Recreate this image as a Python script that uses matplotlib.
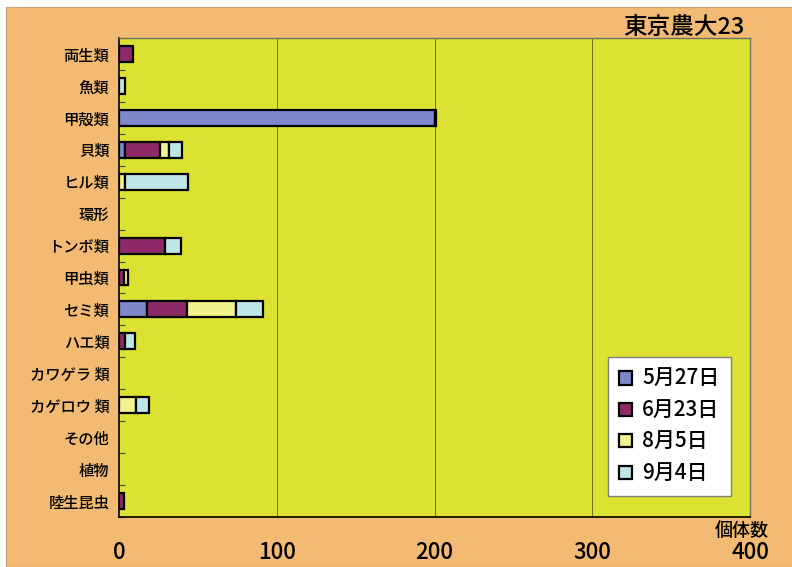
import numpy as np
import matplotlib
matplotlib.use('Agg')
from matplotlib import pyplot as plt
from matplotlib.patches import Rectangle

plt.rcParams['font.family'] = ['Noto Sans CJK JP', 'DejaVu Sans']

categories = ['両生類', '魚類', '甲殻類', '貝類', 'ヒル類', '環形', 'トンボ類', '甲虫類',
              'セミ類', 'ハエ類', 'カワゲラ 類', 'カゲロウ 類', 'その他', '植物', '陸生昆虫']
dates = ['5月27日', '6月23日', '8月5日', '9月4日']

may27 = [0, 0, 200, 4, 0, 0, 0, 0, 18, 0, 0, 0, 0, 0, 0]
jun23 = [9, 0, 1, 22, 0, 0, 29, 3, 25, 4, 0, 0, 0, 0, 3]
aug5 = [0, 0, 0, 6, 4, 0, 0, 3, 31, 0, 0, 11, 0, 0, 0]
sep4 = [0, 4, 0, 8, 40, 0, 10, 0, 17, 6, 0, 8, 0, 0, 0]

colors = ['#8088CC', '#8E2A68', '#F2F28E', '#BFE6E6']
xticks = [0, 100, 200, 300, 400]

fig = plt.figure(figsize=(7.92, 5.67), dpi=100, facecolor='white')
# orange backdrop, leaves a thin white margin top/left like the scan
fig.patches.append(Rectangle((6 / 792, 0), 1, 1 - 7 / 567, transform=fig.transFigure,
                             facecolor='#F2BA72', edgecolor='#C8A070', lw=0.8, zorder=-10))

ax = fig.add_axes([119 / 792, 1 - 517 / 567, (750 - 119) / 792, (517 - 38) / 567])
ax.set_facecolor('#DCE232')

y = np.arange(len(categories))
left = np.zeros(len(categories))
for vals, c, lab in zip([may27, jun23, aug5, sep4], colors, dates):
    vals = np.array(vals, dtype=float)
    nz = vals > 0
    ax.barh(y[nz], vals[nz], left=left[nz], height=0.5, color=c, edgecolor='black',
            linewidth=1.6, label=lab, zorder=3)
    left += vals

ax.set_xlim(0, 400)
ax.set_ylim(len(categories) - 0.5, -0.5)
ax.set_xticks(xticks)
ax.set_xticklabels([str(t) for t in xticks], fontsize=16, fontweight='medium')
ax.tick_params(axis='x', length=0, pad=17)
ax.set_yticks(y)
ax.set_yticklabels(categories, fontsize=11, fontweight='medium')
ax.tick_params(axis='y', length=0, pad=7)
ax.set_yticks(np.arange(len(categories) + 1) - 0.5, minor=True)
ax.tick_params(axis='y', which='minor', direction='in', length=4, width=0.8, color='#444444')

for gx in xticks[1:-1]:
    ax.axvline(gx, color='#6E7020', lw=0.7, zorder=1)

for s in ['left', 'bottom']:
    ax.spines[s].set_color('black')
    ax.spines[s].set_linewidth(1.2)
for s in ['top', 'right']:
    ax.spines[s].set_color('#707060')
    ax.spines[s].set_linewidth(1.0)

leg = ax.legend(loc='lower right', bbox_to_anchor=(0.97, 0.044), borderaxespad=0,
                prop={'size': 15, 'weight': 'medium'},
                frameon=True, fancybox=False, edgecolor='#808080', facecolor='white',
                framealpha=1, handlelength=0.6, handleheight=0.6, handletextpad=0.5,
                labelspacing=0.45, borderpad=0.55)

fig.text(745 / 792, 1 - 28 / 567, '東京農大23', fontsize=17, fontweight='medium',
         ha='right', va='center')
fig.text(742 / 792, 1 - 531 / 567, '個体数', fontsize=13, fontweight='medium',
         ha='center', va='center')

fig.savefig('out.png', dpi=100, facecolor=fig.get_facecolor())
